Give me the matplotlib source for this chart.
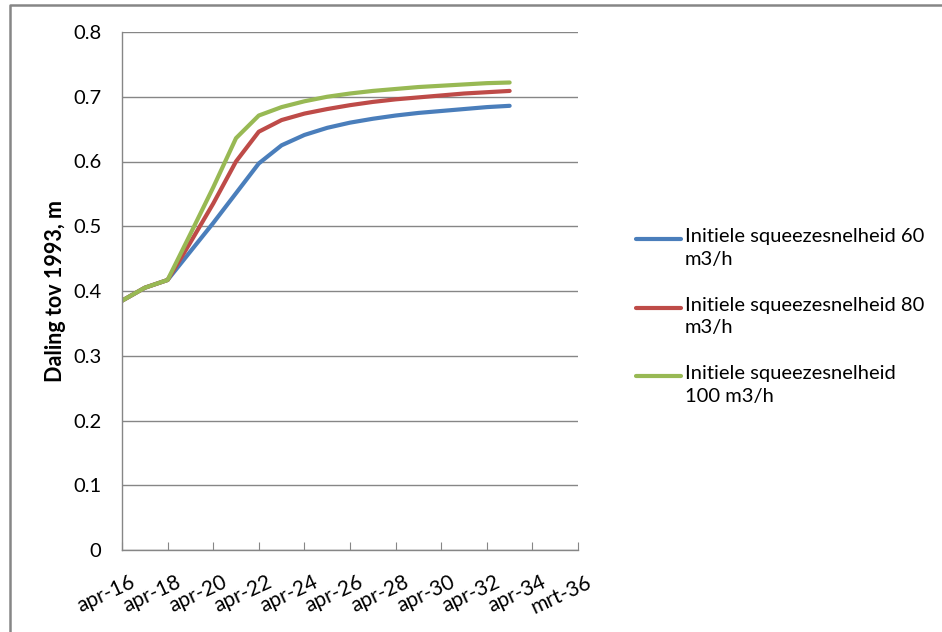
import datetime as dt

import matplotlib

matplotlib.use("Agg")
import matplotlib.pyplot as plt
from matplotlib.lines import Line2D
from matplotlib.transforms import ScaledTranslation

plt.rcParams["font.family"] = ["Lato", "DejaVu Sans"]

# jaarlijkse waarden (april), daling t.o.v. 1993 in m
years = list(range(2016, 2034))
daling_60 = [0.385, 0.405, 0.417, 0.461, 0.505, 0.551, 0.597, 0.625, 0.641, 0.652,
             0.660, 0.666, 0.671, 0.675, 0.678, 0.681, 0.684, 0.686]
daling_80 = [0.385, 0.405, 0.417, 0.475, 0.535, 0.600, 0.646, 0.664, 0.674, 0.681,
             0.687, 0.692, 0.696, 0.699, 0.702, 0.705, 0.707, 0.709]
daling_100 = [0.385, 0.405, 0.417, 0.488, 0.560, 0.636, 0.671, 0.684, 0.693, 0.700,
              0.705, 0.709, 0.712, 0.715, 0.717, 0.719, 0.721, 0.722]
labels = ["Initiele squeezesnelheid 60\nm3/h",
          "Initiele squeezesnelheid 80\nm3/h",
          "Initiele squeezesnelheid\n100 m3/h"]
colors = ["#4A7EBB", "#BE4B48", "#98B954"]

tick_dates = [dt.date(y, 4, 1) for y in range(2016, 2035, 2)] + [dt.date(2036, 3, 31)]
tick_labels = [f"apr-{y % 100:02d}" for y in range(2016, 2035, 2)] + ["mrt-36"]

W, H = 942, 632
fig = plt.figure(figsize=(W / 100, H / 100), dpi=100)
ax = fig.add_axes([122 / W, 1 - 550 / H, (578 - 122) / W, (550 - 32) / H])

dates = [dt.date(y, 4, 1) for y in years]
for vals, c in zip([daling_60, daling_80, daling_100], colors):
    ax.plot(dates, vals, color=c, lw=3, solid_capstyle="round", solid_joinstyle="round")

ax.set_xlim(tick_dates[0], tick_dates[-1])
ax.set_ylim(0, 0.8)
ax.set_yticks([i / 10 for i in range(9)])
ax.set_yticklabels(["0"] + [f"{i / 10:.1f}" for i in range(1, 9)], fontsize=14.5)
ax.set_xticks(tick_dates)
ax.set_xticklabels(tick_labels, fontsize=15, rotation=25, ha="right", rotation_mode="anchor")
ax.tick_params(axis="x", direction="in", length=6, color="#868686", pad=16)
ax.tick_params(axis="y", length=0, pad=15)
shift = ScaledTranslation(8 / 100, 0, fig.dpi_scale_trans)
for lbl in ax.get_xticklabels():
    lbl.set_transform(lbl.get_transform() + shift)

ax.grid(axis="y", color="#868686", lw=1)
ax.set_axisbelow(True)
for side in ["top", "right"]:
    ax.spines[side].set_visible(False)
for side in ["left", "bottom"]:
    ax.spines[side].set_color("#868686")
    ax.spines[side].set_linewidth(1)

ax.set_ylabel("Daling tov 1993, m", fontsize=15.5, fontweight="bold", labelpad=5)

# legenda rechts
for i, (lab, c) in enumerate(zip(labels, colors)):
    y = 1 - (239 + i * 68.5) / H
    fig.add_artist(Line2D([636 / W, 681 / W], [y, y], color=c, lw=3,
                          solid_capstyle="round", transform=fig.transFigure))
    fig.text(685 / W, y + 11 / H, lab, fontsize=14.5, va="top", ha="left", linespacing=1.4)

# kader van de grafiek
fig.add_artist(Line2D([10 / W, 10 / W, 1], [0, 1 - 5 / H, 1 - 5 / H], color="#868686",
                      lw=1.8, transform=fig.transFigure))

fig.savefig("out.png", dpi=100)
